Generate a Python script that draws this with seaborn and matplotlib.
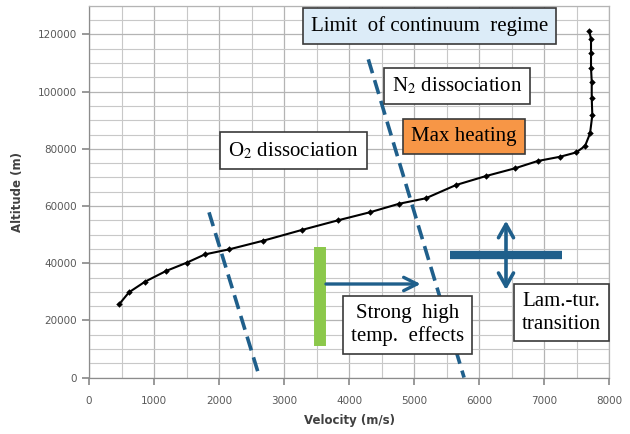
import numpy as np
import pandas as pd
import matplotlib
matplotlib.use("Agg")
import matplotlib.pyplot as plt
import seaborn as sns

# trajectory: velocity (m/s) vs altitude (m)
velocity = [467, 615, 862, 1185, 1503, 1785, 2159, 2682, 3272, 3835, 4323, 4771,
            5180, 5646, 6108, 6554, 6903, 7250, 7495, 7631, 7708, 7743, 7734,
            7734, 7723, 7723, 7723, 7697]
altitude = [25740, 29830, 33540, 37280, 40180, 43100, 44870, 47880, 51620, 55030,
            57830, 60800, 62700, 67350, 70500, 73200, 75750, 77250, 78750, 81000,
            85400, 91800, 97700, 103500, 108200, 113400, 118300, 121300]

# dissociation limits (dashed)
o2_vel = [1846, 2625]
o2_alt = [57800, 0]
n2_vel = [4297, 5770]
n2_alt = [111300, 0]

# high temperature effects marker + arrow
green_vel = [3554, 3554]
green_alt = [11050, 45600]
arrow_vel = [3646, 5103]
arrow_alt = 32730

# laminar-turbulent transition marker
lam_vel = [5554, 7282]
lam_alt = 42870
lam_arrow_vel = 6415
lam_arrow_alt = [30630, 54870]

df = pd.DataFrame({"Velocity (m/s)": velocity, "Altitude (m)": altitude})

sns.set_theme(style="white")
plt.rcParams["mathtext.fontset"] = "stix"

fig = plt.figure(figsize=(6.3, 4.34), dpi=100)
ax = fig.add_axes([0.1413, 0.13, 0.8254, 0.8564])

ax.set_xlim(0, 8000)
ax.set_ylim(0, 130000)
ax.set_xticks(np.arange(0, 8001, 1000))
ax.set_yticks(np.arange(0, 120001, 20000))
ax.set_xticks(np.arange(0, 8001, 500), minor=True)
ax.set_yticks(np.arange(0, 130001, 5000), minor=True)
ax.grid(which="major", color="#b4b4b4", lw=0.9)
ax.grid(which="minor", color="#c8c8c8", lw=0.8)
ax.set_axisbelow(True)
for s in ax.spines.values():
    s.set_color("#b4b4b4")
    s.set_linewidth(0.9)
ax.spines["left"].set_color("#8c8c8c")
ax.spines["bottom"].set_color("#8c8c8c")
ax.tick_params(axis="both", which="major", labelsize=7.5, labelcolor="#595959",
               length=5, color="#8c8c8c", direction="out", bottom=True, left=True)
ax.tick_params(axis="x", pad=8)
ax.tick_params(which="minor", length=0)

blue = "#1f5f8b"
ax.plot(o2_vel, o2_alt, ls=(0, (4, 2)), lw=2.6, color=blue, zorder=2)
ax.plot(n2_vel, n2_alt, ls=(0, (4, 2)), lw=2.6, color=blue, zorder=2)

# estimator=None keeps the repeated velocities near the top as separate points
sns.lineplot(data=df, x="Velocity (m/s)", y="Altitude (m)", sort=False, estimator=None,
             color="black", lw=1.5, marker="D", markersize=3.3, markeredgewidth=0,
             ax=ax, zorder=3)

ax.plot(green_vel, green_alt, lw=8.6, color="#8cc84b", solid_capstyle="butt", zorder=4)
ax.annotate("", xy=(arrow_vel[1], arrow_alt), xytext=(arrow_vel[0], arrow_alt),
            arrowprops=dict(arrowstyle="->,head_length=0.8,head_width=0.4",
                            color=blue, lw=2.4, shrinkA=0, shrinkB=0), zorder=4)
ax.plot(lam_vel, [lam_alt, lam_alt], lw=6, color=blue, solid_capstyle="butt", zorder=4)
ax.annotate("", xy=(lam_arrow_vel, lam_arrow_alt[1]), xytext=(lam_arrow_vel, lam_arrow_alt[0]),
            arrowprops=dict(arrowstyle="<->,head_length=0.8,head_width=0.45",
                            color=blue, lw=2.6, shrinkA=0, shrinkB=0), zorder=4)

serif = "Liberation Serif"
def box(x, y, txt, fc="white", size=15, ls=1.0):
    ax.text(x, y, txt, ha="center", va="center", fontsize=size, family=serif,
            linespacing=ls, color="black", zorder=6,
            bbox=dict(boxstyle="square,pad=0.38", fc=fc, ec="#3a3a3a", lw=1.2))

box(5238, 122900, "Limit  of continuum  regime", fc="#dcecf8")
box(5659, 101970, "N$_2$ dissociation")
box(5768, 84310, "Max heating", fc="#f79646")
box(3146, 79420, "O$_2$ dissociation")
box(4898, 18390, "Strong  high\ntemp.  effects", ls=1.25)
box(7272, 22650, "Lam.-tur.\ntransition", ls=1.25)

ax.set_xlabel("Velocity (m/s)", fontsize=8.5, fontweight="bold", color="#404040", labelpad=6)
ax.set_ylabel("Altitude (m)", fontsize=8.5, fontweight="bold", color="#404040", labelpad=10)

fig.savefig("out.png", dpi=100)
